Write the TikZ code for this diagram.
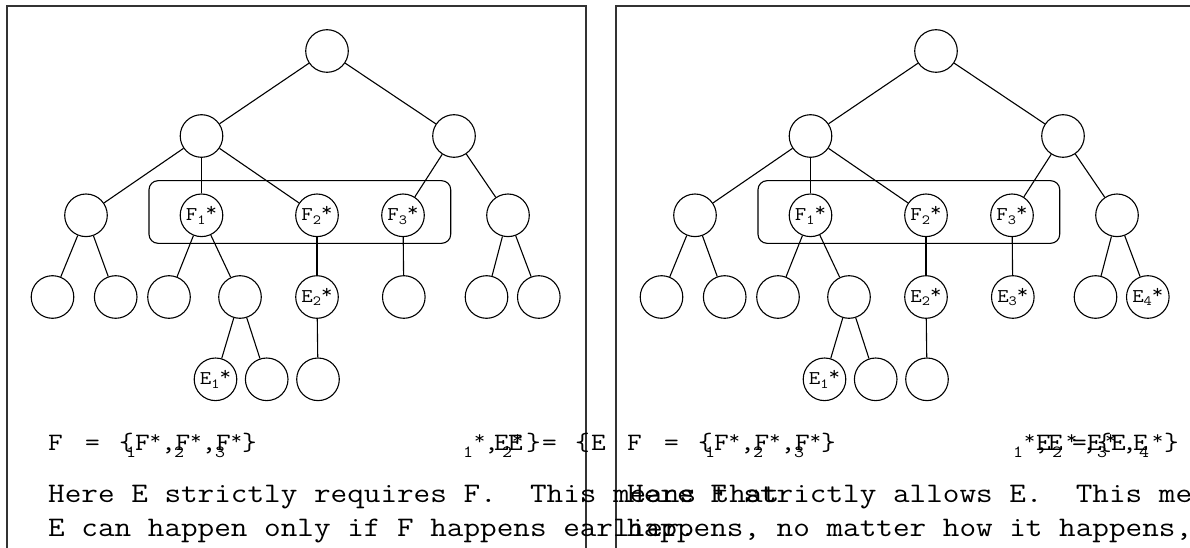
\documentclass[tikz,border=0pt]{standalone}
\usepackage{fontspec}
\setmainfont{Latin Modern Mono}[FakeStretch=1.14]
\frenchspacing
% event label: letter, lowered index, raised star
\newcommand\evlab[2]{#1\raisebox{-3.5pt}{\fontsize{14}{14}\selectfont #2}\raisebox{4pt}{*}}
% raised star for the set formulas
\newcommand\st{\raisebox{6pt}{\fontsize{19}{19}\selectfont *}}
\begin{document}
\begin{tikzpicture}[x=1pt,y=-1pt,
  ev/.style={circle,draw,line width=1.1pt,minimum size=42.6pt,inner sep=0pt,
             font=\fontsize{19.5}{19.5}\selectfont},
  link/.style={line width=1.1pt},
  frame/.style={draw,line width=2pt,black!80},
  grp/.style={draw,line width=1.1pt,rounded corners=9pt},
  big/.style={anchor=base west,inner sep=0pt,font=\fontsize{28.3}{28.3}\selectfont},
  fm/.style={anchor=base west,inner sep=0pt,font=\fontsize{25}{25}\selectfont},
  fs/.style={anchor=base west,inner sep=0pt,font=\fontsize{17}{17}\selectfont},
]
\useasboundingbox (0,0) rectangle (1190,548);

% panel frames
\draw[frame] (6.5,560) -- (6.5,6.5) -- (585.5,6.5) -- (585.5,560);
\draw[frame] (615.5,560) -- (615.5,6.5) -- (1200,6.5);

% ---------- left tree ----------
\draw[grp] (149,180.7) rectangle (450.7,243.3);
\node[ev] (Lr) at (327,51) {};
\node[ev] (La) at (201.5,136) {};
\node[ev] (Lb) at (454,136) {};
\node[ev] (Lc) at (86,215.3) {};
\node[ev] (LF1) at (201.5,215.3) {\evlab F1};
\node[ev] (LF2) at (317,215.3) {\evlab F2};
\node[ev] (LF3) at (403,215.3) {\evlab F3};
\node[ev] (Ld) at (508,215.3) {};
\node[ev] (Le) at (52.5,297) {};
\node[ev] (Lf) at (115.7,297) {};
\node[ev] (Lg) at (169,297) {};
\node[ev] (Lh) at (240,297) {};
\node[ev] (LE2) at (317,297) {\evlab E2};
\node[ev] (Li) at (403.8,297) {};
\node[ev] (Lj) at (486.5,297) {};
\node[ev] (Lk) at (538.8,297) {};
\node[ev] (LE1) at (215.5,379.3) {\evlab E1};
\node[ev] (Ll) at (266.7,379.3) {};
\node[ev] (Lm) at (318,379.3) {};
\foreach \a/\b in {Lr/La,Lr/Lb,La/Lc,La/LF1,La/LF2,Lb/LF3,Lb/Ld,Lc/Le,Lc/Lf,
                   LF1/Lg,LF1/Lh,LF2/LE2,LF3/Li,Ld/Lj,Ld/Lk,Lh/LE1,Lh/Ll,LE2/Lm}
  \draw[link] (\a) -- (\b);

% ---------- right tree ----------
\draw[grp] (758,180.7) rectangle (1059.7,243.3);
\node[ev] (Rr) at (936,51) {};
\node[ev] (Ra) at (810.5,136) {};
\node[ev] (Rb) at (1063,136) {};
\node[ev] (Rc) at (695,215.3) {};
\node[ev] (RF1) at (810.5,215.3) {\evlab F1};
\node[ev] (RF2) at (926,215.3) {\evlab F2};
\node[ev] (RF3) at (1012,215.3) {\evlab F3};
\node[ev] (Rd) at (1117,215.3) {};
\node[ev] (Re) at (661.5,297) {};
\node[ev] (Rf) at (724.7,297) {};
\node[ev] (Rg) at (778,297) {};
\node[ev] (Rh) at (849,297) {};
\node[ev] (RE2) at (926,297) {\evlab E2};
\node[ev] (RE3) at (1012.8,297) {\evlab E3};
\node[ev] (Rj) at (1095.5,297) {};
\node[ev] (RE4) at (1147.8,297) {\evlab E4};
\node[ev] (RE1) at (824.5,379.3) {\evlab E1};
\node[ev] (Rl) at (875.7,379.3) {};
\node[ev] (Rm) at (927,379.3) {};
\foreach \a/\b in {Rr/Ra,Rr/Rb,Ra/Rc,Ra/RF1,Ra/RF2,Rb/RF3,Rb/Rd,Rc/Re,Rc/Rf,
                   RF1/Rg,RF1/Rh,RF2/RE2,RF3/RE3,Rd/Rj,Rd/RE4,Rh/RE1,Rh/Rl,RE2/Rm}
  \draw[link] (\a) -- (\b);

% ---------- left captions ----------
\node[fm] (lsF) at (48,450) {F};
\node[fm] (lsEq) at (85,450) {=};
\node[fm] (lsBr) at (119,450) {\{};
\node[fm] (lsSet) at (135,450) {F\st,F\st,F\st\}};
\node[fs] (lsi1) at (126,457) {1};
\node[fs] (lsi2) at (174,457) {2};
\node[fs] (lsi3) at (215,457) {3};
\node[fs] (lei1) at (463,457) {1};
\node[fm] (les1) at (474,450) {\st};
\node[fm] (lec1) at (484,450) {,};
\node[fm] (leE2) at (494,450) {E};
\node[fs] (lei2) at (502,457) {2};
\node[fm] (les2) at (512,450) {\st};
\node[fm] (lecl) at (526,450) {\}};
\node[fm] (leE) at (508,450) {E};
\node[fm] (leEq) at (542,450) {=};
\node[fm] (leBr) at (575,450) {\{};
\node[fm] (leE1) at (591,450) {E};
\node[big] (ltx2) at (48,502) {Here E strictly requires F.~~This means that};
\node[big] (ltx3) at (48,536) {E can happen only if F happens earlier.};

% ---------- right captions ----------
\node[fm] (rsF) at (627,450) {F};
\node[fm] (rsEq) at (664,450) {=};
\node[fm] (rsBr) at (698,450) {\{};
\node[fm] (rsSet) at (714,450) {F\st,F\st,F\st\}};
\node[fs] (rsi1) at (705,457) {1};
\node[fs] (rsi2) at (753,457) {2};
\node[fs] (rsi3) at (794,457) {3};
\node[fs] (rei1) at (1013,457) {1};
\node[fm] (res1) at (1024,450) {\st};
\node[fm] (rec1) at (1034,450) {,};
\node[fm] (reE2) at (1048,450) {E};
\node[fs] (rei2) at (1052,457) {2};
\node[fm] (res2) at (1066,450) {\st};
\node[fm] (rec2) at (1082,450) {,};
\node[fm] (reE3) at (1087,450) {E};
\node[fs] (rei3) at (1097,457) {3};
\node[fm] (res3) at (1105,450) {\st};
\node[fm] (rec3) at (1122,450) {,};
\node[fm] (reE4) at (1133,450) {E};
\node[fs] (rei4) at (1139,457) {4};
\node[fm] (res4) at (1152,450) {\st};
\node[fm] (recl) at (1164,450) {\}};
\node[fm] (reE) at (1036,450) {E};
\node[fm] (reEq) at (1072,450) {=};
\node[fm] (reBr) at (1097,450) {\{};
\node[fm] (reE1) at (1111,450) {E};
\node[big] (rtx2) at (627,502) {Here F strictly allows E.~~This means};
\node[big] (rtx3) at (627,536) {happens, no matter how it happens,};
\end{tikzpicture}
\end{document}
